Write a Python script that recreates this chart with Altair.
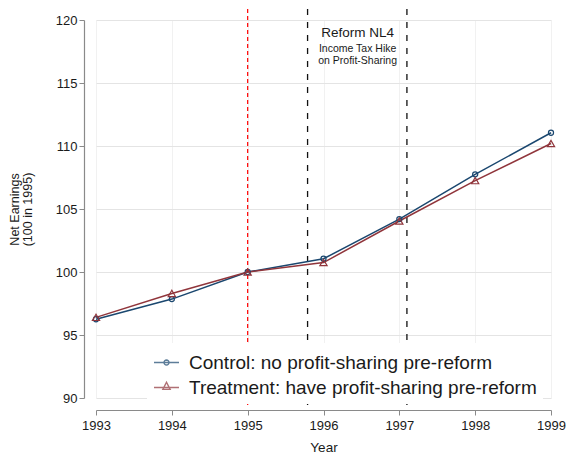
import math
import altair as alt
import pandas as pd

years = [1993, 1994, 1995, 1996, 1997, 1998, 1999]
control = [96.25, 97.85, 100.0, 101.05, 104.2, 107.75, 111.05]
treatment = [96.4, 98.3, 100.0, 100.75, 104.05, 107.25, 110.2]
series_names = ["Control: no profit-sharing pre-reform",
                "Treatment: have profit-sharing pre-reform"]
colors = ["#1a476f", "#90353b"]
shapes = ["circle", "triangle-up"]
marker_sizes = [26, 52]

base_year_line = [1995.0]
reform_lines = [1995.79, 1997.1]

note_x = [1996.45, 1996.45, 1996.45]
note_y = [118.95, 117.68, 116.78]
note_text = ["Reform NL4", "Income Tax Hike", "on Profit-Sharing"]
note_size = [13.5, 10.5, 10.5]

y_ticks = [90, 95, 100, 105, 110, 115, 120]

rows = []
for name, vals in zip(series_names, [control, treatment]):
    for yr, v in zip(years, vals):
        rows.append({"year": yr, "value": v, "series": name})
df = pd.DataFrame(rows)


# legend keys: a line segment with the marker drawn on it (unit coordinates)
def _circle_key(r=0.2, n=16):
    pts = [(r * math.cos(2 * math.pi * k / n), r * math.sin(2 * math.pi * k / n)) for k in range(n)]
    ring = "M" + " L".join(f"{x:.3f},{y:.3f}" for x, y in pts) + " Z"
    return "M-1,0 L1,0 " + ring


def _triangle_key():
    return "M-1,0 L1,0 M0,-0.42 L0.29,0.15 L-0.29,0.15 Z"


legend_keys = [_circle_key(), _triangle_key()]

W, H = 455, 378

xs = alt.Scale(domain=[1993, 1999], nice=False, zero=False)
ys = alt.Scale(domain=[90, 120], nice=False, zero=False)

axis_grey = "#8a8a8a"
x_axis = alt.Axis(values=years, format="d", offset=12, tickSize=5, labelPadding=4,
                  labelFontSize=13, labelFlush=False, title="Year", titleFontSize=13.5,
                  titlePadding=8, titleFontWeight="normal", domain=True, domainWidth=1,
                  domainColor=axis_grey, tickColor=axis_grey, grid=True, gridColor="#f1f1f1",
                  labelColor="#1a1a1a", titleColor="#1a1a1a")
y_axis = alt.Axis(values=y_ticks, offset=12, tickSize=5, labelPadding=2,
                  labelFontSize=13, labelFlush=False, title=["Net Earnings", "(100 in 1995)"],
                  titleFontSize=12.5, titleLineHeight=13, titlePadding=21,
                  titleFontWeight="normal", domain=True, domainWidth=1.2, domainColor=axis_grey,
                  tickColor=axis_grey, grid=True, gridColor="#e4e4e4",
                  labelColor="#1a1a1a", titleColor="#1a1a1a")

red_rule = alt.Chart(pd.DataFrame({"x": base_year_line})).mark_rule(
    color="#ff0000", strokeWidth=1.2, strokeDash=[4, 3]
).encode(x=alt.X("x:Q", scale=xs, axis=x_axis), y=alt.value(-11), y2=alt.value(H + 10))

black_rules = alt.Chart(pd.DataFrame({"x": reform_lines})).mark_rule(
    color="#111111", strokeWidth=1.3, strokeDash=[6, 7]
).encode(x=alt.X("x:Q", scale=xs), y=alt.value(-11), y2=alt.value(H + 10))

notes = alt.Chart(pd.DataFrame({"x": note_x, "y": note_y, "t": note_text, "s": note_size})).mark_text(
    color="#1a1a1a", baseline="middle", align="center"
).encode(x=alt.X("x:Q", scale=xs), y=alt.Y("y:Q", scale=ys),
         text="t:N", size=alt.Size("s:Q", scale=None))

lines = alt.Chart(df).mark_line(strokeWidth=1.5).encode(
    x=alt.X("year:Q", scale=xs, axis=x_axis),
    y=alt.Y("value:Q", scale=ys, axis=y_axis),
    color=alt.Color("series:N", scale=alt.Scale(domain=series_names, range=colors), legend=None),
)

points = alt.Chart(df).mark_point(filled=False, strokeWidth=1.2, opacity=1).encode(
    x=alt.X("year:Q", scale=xs),
    y=alt.Y("value:Q", scale=ys),
    color=alt.Color("series:N", scale=alt.Scale(domain=series_names, range=colors), legend=None),
    shape=alt.Shape("series:N", scale=alt.Scale(domain=series_names, range=shapes), legend=None),
    size=alt.Size("series:N", scale=alt.Scale(domain=series_names, range=marker_sizes), legend=None),
)

legend_props = dict(orient="none", legendX=51, legendY=323, title=None, padding=6,
                    labelFontSize=19, labelOffset=9, rowPadding=1, labelLimit=600,
                    labelColor="#1a1a1a", symbolSize=625, symbolStrokeWidth=1.4,
                    symbolFillColor="transparent", fillColor="white")

# legend-only layer: no rows drawn, its scales carry the series domain
legend_layer = alt.Chart(df).mark_point(filled=False).encode(
    x=alt.X("year:Q", scale=xs),
    y=alt.Y("value:Q", scale=ys),
    color=alt.Color("series:N", scale=alt.Scale(domain=series_names, range=colors),
                    legend=alt.Legend(**legend_props)),
    shape=alt.Shape("series:N", scale=alt.Scale(domain=series_names, range=legend_keys),
                    legend=alt.Legend(**legend_props)),
).transform_filter("false")

chart = alt.layer(red_rule, black_rules, notes, lines, points, legend_layer).resolve_scale(
    color="independent", shape="independent", size="independent"
).properties(
    width=W, height=H,
    autosize=alt.AutoSizeParams(type="none"),
    padding={"left": 88, "top": 12, "right": 16, "bottom": 60},
).configure(
    font="Liberation Sans",
).configure_view(stroke=None)

chart.save("out.html", embed_options={"renderer": "svg", "actions": False})
